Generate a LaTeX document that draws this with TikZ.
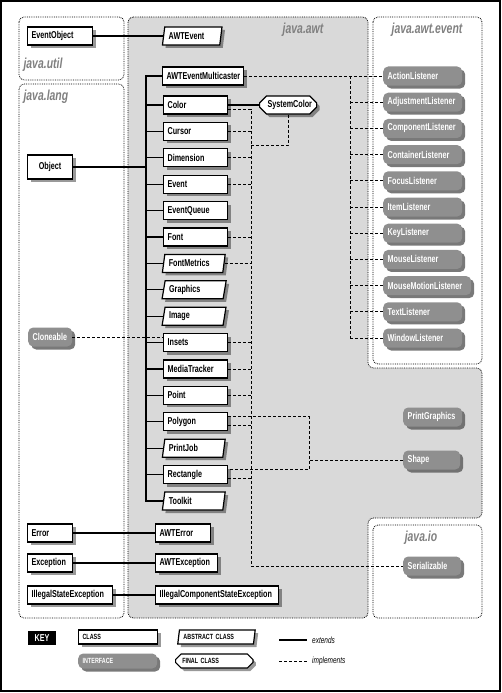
\documentclass[tikz,border=0pt]{standalone}
\usepackage{fontspec}
\newfontfamily\cfont{Liberation Sans}[FakeStretch=0.72]
\usetikzlibrary{shapes.geometric,shapes.misc,shadows}
\definecolor{awtfill}{gray}{0.85}
\definecolor{ifacefill}{gray}{0.56}
\definecolor{ifaceshade}{gray}{0.38}
\definecolor{pkgtext}{gray}{0.5}
\begin{document}
\begin{tikzpicture}[x=1pt,y=-1pt,
		cls/.style={draw, line width=1.2pt, fill=white, font=\cfont\bfseries\fontsize{10}{11}\selectfont,
				text width=56pt, align=left, inner xsep=4pt, inner ysep=0pt, minimum height=18pt,
				drop shadow={shadow xshift=3pt, shadow yshift=-3pt, fill=black, opacity=0.4}},
		abs/.style={cls, trapezium, trapezium left angle=72, trapezium right angle=108,
				trapezium stretches=true, text width=50pt},
		fin/.style={cls, chamfered rectangle, chamfered rectangle xsep=4pt, text width=41pt},
		iface/.style={rounded corners=5pt, fill=ifacefill, text=white, font=\cfont\bfseries\fontsize{10}{11}\selectfont,
				text width=#1, align=left, inner xsep=4.5pt, inner ysep=0pt, minimum height=19pt,
				drop shadow={shadow xshift=3pt, shadow yshift=-3pt, fill=ifaceshade, opacity=0.85}},
		pkg/.style={densely dotted, line width=0.8pt, rounded corners=5pt},
		pkglabel/.style={text=pkgtext, font=\cfont\bfseries\itshape\fontsize{14.5}{16}\selectfont},
		ext/.style={line width=1.2pt},
		impl/.style={dashed, dash pattern=on 3pt off 2pt, line width=0.7pt},
		keytext/.style={font=\cfont\bfseries\fontsize{7.5}{8}\selectfont}]
	\useasboundingbox (0,0) rectangle (502,693);
	\draw[line width=1.2pt] (1,1) rectangle (500,691);

	\begin{scope}
		\draw[pkg, fill=awtfill] (128,17) -- (368,17) -- (368,368) -- (482,368) -- (482,518)
		-- (368,518) -- (368,618) -- (128,618) -- cycle;
		\draw[pkg] (19,17) rectangle (124,80);
		\draw[pkg] (19,84) rectangle (124,618);
		\draw[pkg] (373,17) rectangle (482,364);
		\draw[pkg] (373,525) rectangle (482,618);
	\end{scope}
	\node[pkglabel, anchor=west] (utillabel) at (20,65) {java.util};
	\node[pkglabel, anchor=west] (langlabel) at (20,97) {java.lang};
	\node[pkglabel] (awtlabel) at (303,30) {java.awt};
	\node[pkglabel] (eventlabel) at (427,30) {java.awt.event};
	\node[pkglabel] (iolabel) at (421,538) {java.io};

	\node[cls, text width=57pt, anchor=west] (EventObject) at (27,36) {EventObject};
	\node[abs, text width=47pt, anchor=west] (AWTEvent) at (163,36) {AWTEvent};
	\node[cls, text width=37pt, align=center, minimum height=24pt, anchor=west] (Object) at (27,167) {Object};
	\node[cls, text width=73pt, anchor=west] (AWTEventMulticaster) at (162,76) {AWTEventMulticaster};
	\foreach \n/\s [count=\i from 0] in {Color/cls, Cursor/cls, Dimension/cls, Event/cls, EventQueue/cls,
			Font/cls, FontMetrics/abs, Graphics/abs, Image/abs, Insets/cls, MediaTracker/cls, Point/cls,
			Polygon/cls, PrintJob/abs, Rectangle/cls, Toolkit/abs} {
			\node[\s, anchor=west] (\n) at (163,{105+26.4*\i}) {\n};
		}
	\node[fin, anchor=west] (SystemColor) at (259,105) {SystemColor};

	\node[cls, text width=37pt, anchor=west] (Error) at (27,533) {Error};
	\node[cls, text width=37pt, anchor=west] (Exception) at (27,563) {Exception};
	\node[cls, text width=77pt, anchor=west] (IllegalStateException) at (27,595) {IllegalStateException};
	\node[cls, text width=47pt, anchor=west] (AWTError) at (155,533) {AWTError};
	\node[cls, text width=54pt, anchor=west] (AWTException) at (155,563) {AWTException};
	\node[cls, text width=115pt, anchor=west] (IllegalComponentStateException) at (155,595)
	{IllegalComponentStateException};

	\node[iface=35pt, anchor=west] (Cloneable) at (28,337) {Cloneable};
	\foreach \n/\w [count=\i from 0] in {ActionListener/70, AdjustmentListener/70, ComponentListener/70,
			ContainerListener/70, FocusListener/70, ItemListener/70, KeyListener/70, MouseListener/70,
			MouseMotionListener/79, TextListener/70, WindowListener/70} {
			\node[iface=\w pt, anchor=west] (\n) at (383,{76+26.2*\i}) {\n};
		}
	\node[iface=50pt, anchor=west] (PrintGraphics) at (403,417) {PrintGraphics};
	\node[iface=48pt, anchor=west] (Shape) at (403,460) {Shape};
	\node[iface=49pt, anchor=west] (Serializable) at (403,566) {Serializable};

	\coordinate (trunk) at (146,0);
	\coordinate (lbus) at (350,0);
	\coordinate (sbus) at (251,0);
	\coordinate (shbus) at (309,0);
	\coordinate (sysjoin) at (251,145);
	\coordinate (colorL) at ([yshift=-4pt]Color.east);
	\coordinate (polyU) at ([yshift=5pt]Polygon.east);
	\coordinate (polyL) at ([yshift=-4pt]Polygon.east);
	\coordinate (rectU) at ([yshift=5pt]Rectangle.east);
	\coordinate (rectL) at ([yshift=-4pt]Rectangle.east);

	\draw[ext] (EventObject.east) -- (AWTEvent.west);
	\draw[ext] (AWTEventMulticaster.west) -| (trunk |- Toolkit.west) -- (Toolkit.west);
	\foreach \n in {Color, Cursor, Dimension, Event, EventQueue, Font, FontMetrics, Graphics, Image,
			Insets, MediaTracker, Point, Polygon, PrintJob, Rectangle} {
			\draw[ext] (\n.west) -- (trunk |- \n.west);
		}
	\draw[ext] (Object.east) -- (trunk |- Object.east);
	\draw[ext] (Color.east) -- (SystemColor.west);
	\draw[ext] (Error.east) -- (AWTError.west);
	\draw[ext] (Exception.east) -- (AWTException.west);
	\draw[ext] (IllegalStateException.east) -- (IllegalComponentStateException.west);

	\draw[impl] (AWTEventMulticaster.east) -- (ActionListener.west);
	\draw[impl] (lbus |- ActionListener.west) -- (lbus |- WindowListener.west);
	\foreach \n in {AdjustmentListener, ComponentListener, ContainerListener, FocusListener, ItemListener,
			KeyListener, MouseListener, MouseMotionListener, TextListener, WindowListener} {
			\draw[impl] (lbus |- \n.west) -- (\n.west);
		}

	\draw[impl] (colorL) -| (sbus |- Serializable.west) -- (Serializable.west);
	\foreach \n in {Cursor, Dimension, Event, Font, FontMetrics, Insets, MediaTracker, Point} {
			\draw[impl] (\n.east) -- (sbus |- \n.east);
		}
	\draw[impl] (polyL) -- (sbus |- polyL);
	\draw[impl] (rectL) -- (sbus |- rectL);
	\draw[impl] (SystemColor.south) |- (sysjoin);
	\draw[impl] (polyU) -| (shbus |- rectU) -- (rectU);
	\draw[impl] (Shape.west) -- (shbus |- Shape.west);
	\draw[impl] (Cloneable.east) -- (Insets.west |- Cloneable.east);

	\node[fill=black, text=white, font=\cfont\bfseries\fontsize{10}{11}\selectfont,
		minimum width=28pt, minimum height=14pt, inner sep=0pt] (key) at (42,638) {KEY};
	\node[cls, keytext, text width=71pt, minimum height=14pt, anchor=west] (keyclass) at (78,637) {CLASS};
	\node[iface=70pt, keytext, minimum height=15pt, anchor=west] (keyiface) at (78,661) {INTERFACE};
	\node[abs, keytext, text width=66pt, minimum height=14pt, anchor=west] (keyabs) at (178,637) {ABSTRACT CLASS};
	\node[fin, keytext, text width=64pt, minimum height=14pt, anchor=west] (keyfinal) at (175,661) {FINAL CLASS};
	\coordinate (extA) at (279,640);
	\coordinate (extB) at (307,640);
	\coordinate (implA) at (279,661);
	\coordinate (implB) at (307,661);
	\draw[ext] (extA) -- (extB);
	\draw[impl] (implA) -- (implB);
	\node[font=\cfont\itshape\fontsize{9}{10}\selectfont, anchor=west, inner xsep=0pt] (extlabel) at (312,640) {extends};
	\node[font=\cfont\itshape\fontsize{9}{10}\selectfont, anchor=west, inner xsep=0pt] (impllabel) at (312,661) {implements};
\end{tikzpicture}
\end{document}
